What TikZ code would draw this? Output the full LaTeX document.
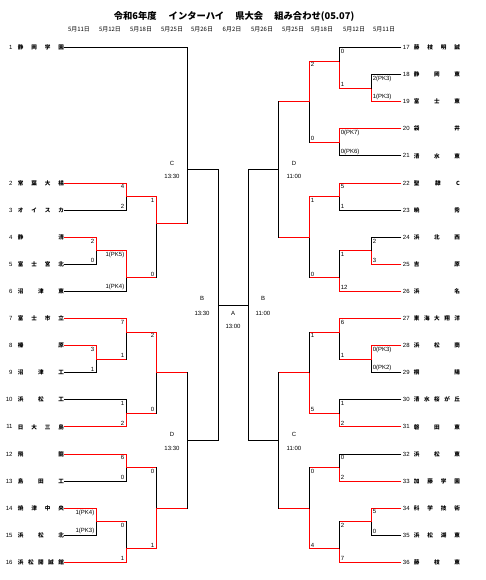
\documentclass[tikz,border=0pt]{standalone}
\usepackage{fontspec}
\setmainfont{Noto Sans CJK JP}
\newfontfamily\numfont{Liberation Sans}
\begin{document}
\begin{tikzpicture}[x=1pt, y=-27.1pt, line width=0.9pt, line cap=rect,
  tname/.style={inner sep=0pt, font=\bfseries\fontsize{5.6}{6}\selectfont},
  tnum/.style={inner xsep=1.5pt, inner ysep=0pt, font=\numfont\fontsize{6}{7}\selectfont},
  sc/.style={inner xsep=1.3pt, inner ysep=1.2pt, font=\numfont\fontsize{6}{7}\selectfont},
  lbl/.style={inner sep=0pt, font=\numfont\fontsize{6}{7}\selectfont}]
\useasboundingbox (0,-1.7528) rectangle (485,19.649);
% title and dates
\node[inner sep=0pt, font=\bfseries\fontsize{9.3}{10}\selectfont] (title) at (234,-1.162)
  {令和6年度\hspace{1.3em}インターハイ\hspace{1.2em}県大会\hspace{1.2em}組み合わせ(05.07)};
\foreach \x/\d in {79/5月11日, 110/5月12日, 141/5月18日, 172/5月25日, 202/5月26日, 232/6月2日,
  262/5月26日, 293/5月25日, 322/5月18日, 354/5月12日, 384/5月11日}
  \node[inner sep=0pt, font=\fontsize{6}{7}\selectfont] (d\x) at (\x,-0.683) {\d};
% left teams
\foreach \i/\r/\t in {1/0/{静\hfill 岡\hfill 学\hfill 園}, 2/5/{常\hfill 葉\hfill 大\hfill 橘},
  3/6/{オ\hfill イ\hfill ス\hfill カ}, 4/7/{静\hfill 清}, 5/8/{富\hfill 士\hfill 宮\hfill 北},
  6/9/{沼\hfill 津\hfill 東}, 7/10/{富\hfill 士\hfill 市\hfill 立}, 8/11/{榛\hfill 原},
  9/12/{沼\hfill 津\hfill 工}, 10/13/{浜\hfill 松\hfill 工}, 11/14/{日\hfill 大\hfill 三\hfill 島},
  12/15/{飛\hfill 龍}, 13/16/{島\hfill 田\hfill 工}, 14/17/{焼\hfill 津\hfill 中\hfill 央},
  15/18/{浜\hfill 松\hfill 北}, 16/19/{浜\hfill 松\hfill 開\hfill 誠\hfill 館}} {
  \node[tnum, anchor=east] (k\i) at (14.5,\r) {\i};
  \node[tname, anchor=west] (n\i) at (17.5,\r) {\makebox[46pt][s]{\t}};
}
% right teams
\foreach \i/\r/\t in {17/0/{藤\hfill 枝\hfill 明\hfill 誠}, 18/1/{静\hfill 岡\hfill 東},
  19/2/{富\hfill 士\hfill 東}, 20/3/{袋\hfill 井}, 21/4/{清\hfill 水\hfill 東},
  22/5/{聖\hfill 隷\hfill C}, 23/6/{暁\hfill 秀}, 24/7/{浜\hfill 北\hfill 西}, 25/8/{吉\hfill 原},
  26/9/{浜\hfill 名}, 27/10/{東\hfill 海\hfill 大\hfill 翔\hfill 洋}, 28/11/{浜\hfill 松\hfill 商},
  29/12/{桐\hfill 陽}, 30/13/{清\hfill 水\hfill 桜\hfill が\hfill 丘}, 31/14/{磐\hfill 田\hfill 東},
  32/15/{浜\hfill 松\hfill 東}, 33/16/{加\hfill 藤\hfill 学\hfill 園}, 34/17/{科\hfill 学\hfill 技\hfill 術},
  35/18/{浜\hfill 松\hfill 湖\hfill 東}, 36/19/{藤\hfill 枝\hfill 東}} {
  \node[tnum, anchor=west] (k\i) at (401,\r) {\i};
  \node[tname, anchor=west] (n\i) at (413.5,\r) {\makebox[46pt][s]{\t}};
}
% left matches: name/x/row/upper/lower/colours/scores
\foreach \m/\x/\y/\p/\q/\ph/\pv/\qh/\qv/\ps/\qs in {
  m23/126/5.5/n2.east/n3.east/red/red/black/black/4/2,
  m45/96/7.5/n4.east/n5.east/red/red/black/black/2/0,
  m456/126/8.5/m45/n6.east/red/red/black/black/1(PK5)/1(PK4),
  m26/156/6.5/m23/m456/red/red/red/black/1/0,
  mCL/187/4.5/n1.east/m26/black/black/red/black//,
  m89/96/11.5/n8.east/n9.east/red/red/black/black/3/1,
  m79/126/10.5/n7.east/m89/red/red/red/black/7/1,
  m1011/126/13.5/n10.east/n11.east/black/black/red/red/1/2,
  m711/156/12/m79/m1011/red/red/red/black/2/0,
  m1213/126/15.5/n12.east/n13.east/red/red/black/black/6/0,
  m1415/96/17.5/n14.east/n15.east/red/red/black/black/1(PK4)/1(PK3),
  m1416/126/18.5/m1415/n16.east/red/black/red/red/0/1,
  m1216/156/17/m1213/m1416/red/black/red/red/0/1,
  mDL/187/14.5/m711/m1216/red/black/red/black//,
  mBL/218/9.5/mCL/mDL/black/black/black/black//} {
  \coordinate (\m) at (\x,\y);
  \draw[color=\qh] (\q) -- (\q -| \m);
  \draw[color=\ph] (\p) -- (\p -| \m);
  \draw[color=\qv] (\q -| \m) -- (\m);
  \draw[color=\pv] (\p -| \m) -- (\m);
  \node[sc, anchor=north east] (\m-p) at (\p -| \m) {\ps};
  \node[sc, anchor=south east] (\m-q) at (\q -| \m) {\qs};
}
% right matches
\foreach \m/\x/\y/\p/\q/\ph/\pv/\qh/\qv/\ps/\qs in {
  m1819/371/1.5/k18.west/k19.west/black/black/red/red/2(PK3)/1(PK3),
  m1719/339/0.5/k17.west/m1819/black/black/red/red/0/1,
  m2021/339/3.5/k20.west/k21.west/red/red/black/black/0(PK7)/0(PK6),
  m1721/309/2/m1719/m2021/red/red/red/black/2/0,
  m2223/339/5.5/k22.west/k23.west/red/red/black/black/5/1,
  m2425/371/7.5/k24.west/k25.west/black/black/red/red/2/3,
  m2426/339/8.5/m2425/k26.west/red/black/red/red/1/12,
  m2226/309/7/m2223/m2426/red/red/red/black/1/0,
  mDR/278/4.5/m1721/m2226/red/black/red/black//,
  m2829/371/11.5/k28.west/k29.west/red/red/black/black/0(PK3)/0(PK2),
  m2729/339/10.5/k27.west/m2829/red/red/red/black/6/1,
  m3031/339/13.5/k30.west/k31.west/black/black/red/red/1/2,
  m2731/309/12/m2729/m3031/red/black/red/red/1/5,
  m3233/339/15.5/k32.west/k33.west/black/black/red/red/0/2,
  m3435/371/17.5/k34.west/k35.west/red/red/black/black/5/0,
  m3436/339/18.5/m3435/k36.west/red/black/red/red/2/7,
  m3236/309/17/m3233/m3436/red/black/red/red/0/4,
  mCR/278/14.5/m2731/m3236/red/black/red/black//,
  mBR/248/9.5/mDR/mCR/black/black/black/black//} {
  \coordinate (\m) at (\x,\y);
  \draw[color=\qh] (\q) -- (\q -| \m);
  \draw[color=\ph] (\p) -- (\p -| \m);
  \draw[color=\qv] (\q -| \m) -- (\m);
  \draw[color=\pv] (\p -| \m) -- (\m);
  \node[sc, anchor=north west] (\m-p) at (\p -| \m) {\ps};
  \node[sc, anchor=south west] (\m-q) at (\q -| \m) {\qs};
}
% final
\draw (mBL) -- (mBR);
% rounds and times
\foreach \n/\x/\y/\t in {cl/172/4.26/C, dl/172/14.26/D, bl/202/9.244/B, a/233/9.797/A,
  br/263/9.244/B, dr/294/4.26/D, cr/294/14.26/C}
  \node[lbl] (r\n) at (\x,\y) {\t};
\foreach \n/\x/\y/\t in {cl/172/4.742/13:30, dl/172/14.78/13:30, bl/202/9.797/13:30,
  a/233/10.277/13:00, br/263/9.797/11:00, dr/294/4.742/11:00, cr/294/14.78/11:00}
  \node[lbl] (h\n) at (\x,\y) {\t};
\end{tikzpicture}
\end{document}
